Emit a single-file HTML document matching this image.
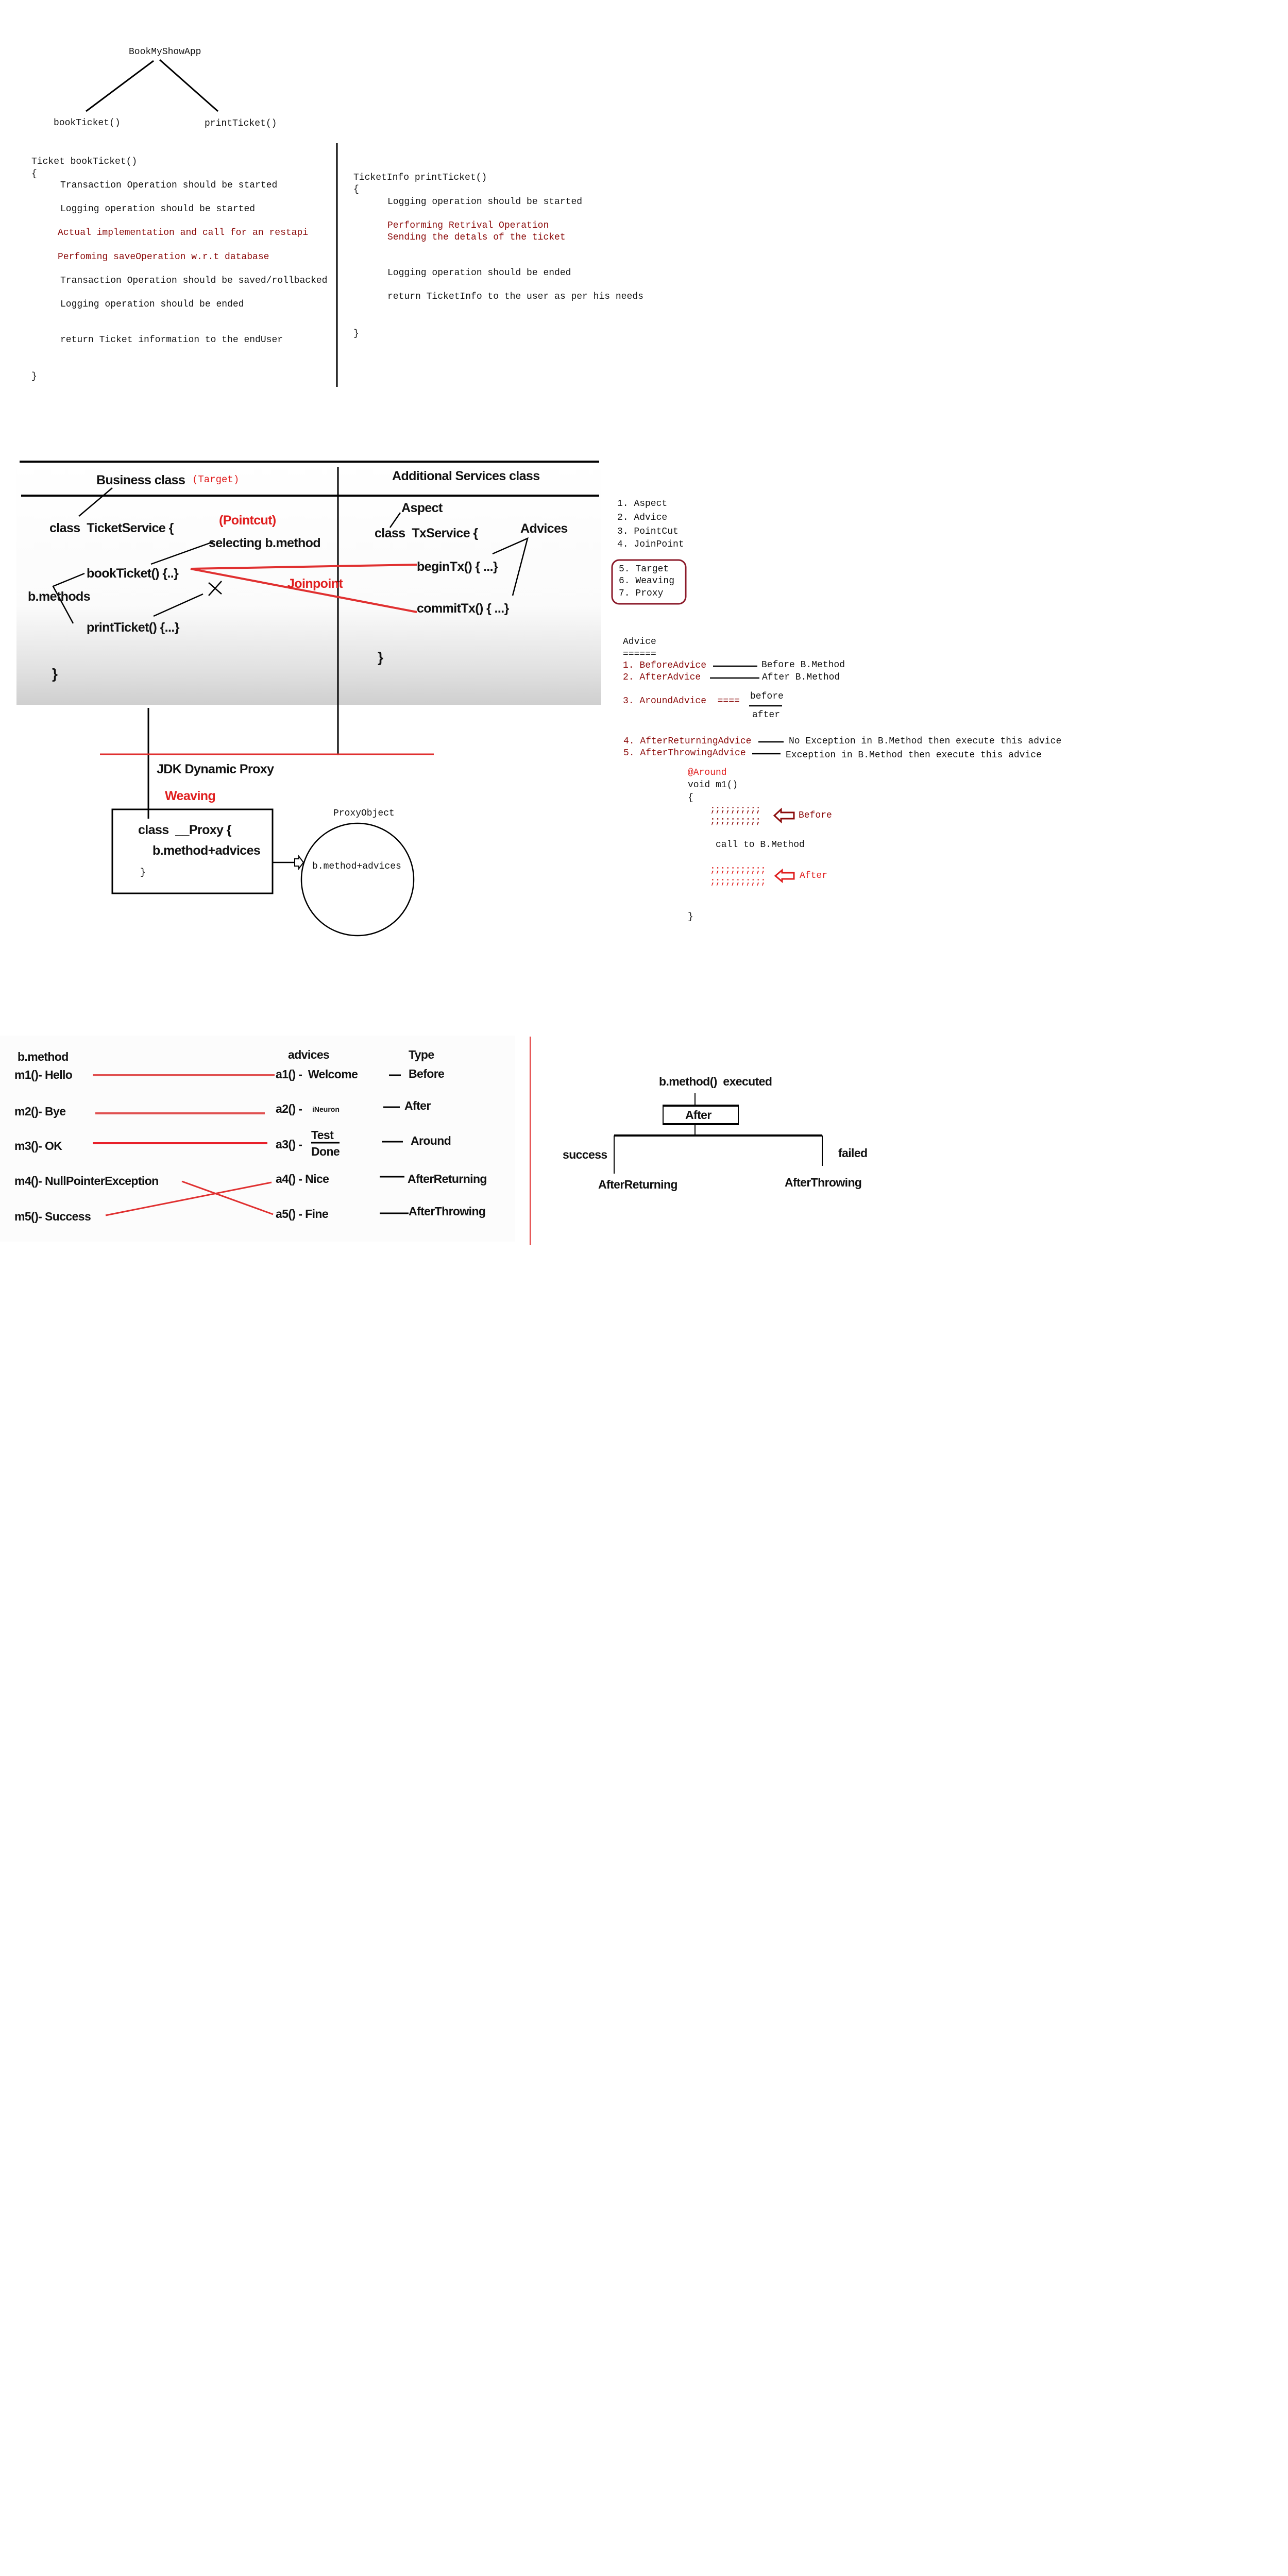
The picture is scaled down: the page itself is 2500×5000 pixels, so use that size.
<!DOCTYPE html>
<html><head><meta charset="utf-8"><style>
html,body{margin:0;padding:0;background:#fff;}
body{width:2500px;height:5000px;position:relative;overflow:hidden;}
.t{position:absolute;white-space:pre;line-height:1;}
.m{font-family:"Liberation Mono",monospace;font-size:18px;color:#111;}
.s{font-family:"Liberation Sans",sans-serif;font-size:23px;font-weight:bold;color:#111;letter-spacing:-0.6px;}
.r{color:#8b0a0a;}
.rr{color:#e01e1e;}
svg{position:absolute;left:0;top:0;}
</style></head><body>

<!-- gray box section 2 -->
<div style="position:absolute;left:32px;top:889px;width:1135px;height:479px;background:linear-gradient(to bottom,#fff 0%,#fbfbfb 60%,#e2e2e2 85%,#cfcfcf 100%);"></div>
<!-- light bg section 3 -->
<div style="position:absolute;left:0;top:2010px;width:1000px;height:400px;background:#fcfcfc;"></div>

<svg width="2500" height="5000">
<g stroke="#000" stroke-width="3" fill="none">
<line x1="298" y1="118" x2="167" y2="216"/>
<line x1="310" y1="116" x2="423" y2="216"/>
<line x1="654" y1="278" x2="654" y2="751"/>
<!-- section2 -->
<line x1="38" y1="896" x2="1163" y2="896" stroke-width="4"/>
<line x1="41" y1="962" x2="1163" y2="962" stroke-width="4"/>
<line x1="656" y1="906" x2="656" y2="1466"/>
<line x1="218" y1="947" x2="153" y2="1002" stroke-width="2.5"/>
<line x1="293" y1="1095" x2="413" y2="1052" stroke-width="2.5"/>
<polyline points="164,1113 103,1138 142,1210" stroke-width="2.5"/>
<line x1="298" y1="1196" x2="394" y2="1153" stroke-width="2.5"/>
<line x1="405" y1="1131" x2="430" y2="1153" stroke-width="2.5"/>
<line x1="430" y1="1128" x2="405" y2="1156" stroke-width="2.5"/>
<line x1="777" y1="995" x2="757" y2="1024" stroke-width="2.5"/>
<polyline points="956,1075 1024,1045 995,1156" stroke-width="2.5"/>
<line x1="288" y1="1374" x2="288" y2="1589"/>
<rect x="218" y="1571" width="311" height="163" stroke-width="3"/>
<line x1="529" y1="1674" x2="572" y2="1674" stroke-width="2.5"/>
<polygon points="572,1667 580,1667 580,1662 589,1674 580,1686 580,1681 572,1681" stroke-width="2"/>
<circle cx="694" cy="1707" r="109" stroke-width="2.5"/>
<!-- advice lines -->
<line x1="1384" y1="1293" x2="1470" y2="1293" stroke-width="2.5"/>
<line x1="1378" y1="1316" x2="1474" y2="1316" stroke-width="2.5"/>
<line x1="1454" y1="1370" x2="1518" y2="1370" stroke-width="2.5"/>
<line x1="1472" y1="1440" x2="1521" y2="1440" stroke-width="2.5"/>
<line x1="1460" y1="1463" x2="1515" y2="1463" stroke-width="2.5"/>
<!-- section3 dashes -->
<line x1="755" y1="2087" x2="778" y2="2087" stroke-width="3"/>
<line x1="744" y1="2149" x2="776" y2="2149" stroke-width="3"/>
<line x1="741" y1="2216" x2="782" y2="2216" stroke-width="3"/>
<line x1="737" y1="2284" x2="785" y2="2284" stroke-width="3"/>
<line x1="737" y1="2355" x2="793" y2="2355" stroke-width="3"/>
<line x1="604" y1="2218" x2="659" y2="2218" stroke-width="3"/>
<!-- tree -->
<line x1="1349" y1="2122" x2="1349" y2="2145" stroke-width="2"/>
<rect x="1287" y="2145" width="146" height="38" stroke-width="2"/>
<line x1="1287" y1="2146" x2="1433" y2="2146" stroke-width="4"/>
<line x1="1287" y1="2182" x2="1433" y2="2182" stroke-width="4"/>
<line x1="1349" y1="2183" x2="1349" y2="2204" stroke-width="2"/>
<line x1="1192" y1="2204" x2="1596" y2="2204" stroke-width="4"/>
<line x1="1192" y1="2204" x2="1192" y2="2278" stroke-width="2"/>
<line x1="1596" y1="2204" x2="1596" y2="2263" stroke-width="2"/>
</g>
<g stroke="#e03030" fill="none">
<line x1="370" y1="1104" x2="809" y2="1096" stroke-width="4"/>
<line x1="370" y1="1104" x2="809" y2="1188" stroke-width="4"/>
<line x1="194" y1="1464" x2="842" y2="1464" stroke-width="3"/>
<line x1="180" y1="2087" x2="533" y2="2087" stroke-width="4" stroke="#e05050"/>
<line x1="185" y1="2161" x2="514" y2="2161" stroke-width="4" stroke="#e05050"/>
<line x1="180" y1="2219" x2="519" y2="2219" stroke-width="4" stroke="#e8202a"/>
<line x1="353" y1="2293" x2="530" y2="2357" stroke-width="3"/>
<line x1="205" y1="2359" x2="527" y2="2295" stroke-width="3"/>
<line x1="1029" y1="2012" x2="1029" y2="2417" stroke-width="2"/>
</g>
<rect x="1188" y="1087" width="143" height="85" rx="14" fill="none" stroke="#8b1a2a" stroke-width="3"/>
<polygon points="1503,1583 1516,1571 1516,1577 1541,1577 1541,1589 1516,1589 1516,1595" fill="none" stroke="#8b0a0a" stroke-width="3"/>
<polygon points="1505,1700 1518,1689 1518,1694 1541,1694 1541,1706 1518,1706 1518,1711" fill="none" stroke="#e01e1e" stroke-width="3"/>
</svg>

<!-- Section 1 -->
<div class="t m" style="left:250px;top:92px">BookMyShowApp</div>
<div class="t m" style="left:104px;top:230px">bookTicket()</div>
<div class="t m" style="left:397px;top:231px">printTicket()</div>
<div class="t m" style="left:61px;top:305px">Ticket bookTicket()</div>
<div class="t m" style="left:61px;top:329px">{</div>
<div class="t m" style="left:117px;top:351px">Transaction Operation should be started</div>
<div class="t m" style="left:117px;top:397px">Logging operation should be started</div>
<div class="t m r" style="left:112px;top:443px">Actual implementation and call for an restapi</div>
<div class="t m r" style="left:112px;top:490px">Perfoming saveOperation w.r.t database</div>
<div class="t m" style="left:117px;top:536px">Transaction Operation should be saved/rollbacked</div>
<div class="t m" style="left:117px;top:582px">Logging operation should be ended</div>
<div class="t m" style="left:117px;top:651px">return Ticket information to the endUser</div>
<div class="t m" style="left:61px;top:722px">}</div>
<div class="t m" style="left:686px;top:336px">TicketInfo printTicket()</div>
<div class="t m" style="left:686px;top:359px">{</div>
<div class="t m" style="left:752px;top:383px">Logging operation should be started</div>
<div class="t m r" style="left:752px;top:429px">Performing Retrival Operation</div>
<div class="t m r" style="left:752px;top:452px">Sending the detals of the ticket</div>
<div class="t m" style="left:752px;top:521px">Logging operation should be ended</div>
<div class="t m" style="left:752px;top:567px">return TicketInfo to the user as per his needs</div>
<div class="t m" style="left:686px;top:639px">}</div>

<!-- Section 2 -->
<div class="t s" style="left:187px;top:920px;font-size:25px">Business class</div>
<div class="t m rr" style="left:373px;top:922px;font-size:19px">(Target)</div>
<div class="t s" style="left:761px;top:912px;font-size:25px">Additional Services class</div>
<div class="t s" style="left:96px;top:1013px;font-size:25px">class  TicketService {</div>
<div class="t s rr" style="left:425px;top:998px;font-size:25px">(Pointcut)</div>
<div class="t s" style="left:405px;top:1042px;font-size:25px">selecting b.method</div>
<div class="t s" style="left:168px;top:1101px;font-size:25px">bookTicket() {..}</div>
<div class="t s" style="left:54px;top:1146px;font-size:25px">b.methods</div>
<div class="t s" style="left:168px;top:1206px;font-size:25px">printTicket() {...}</div>
<div class="t s" style="left:101px;top:1294px;font-size:28px">}</div>
<div class="t s rr" style="left:558px;top:1121px;font-size:25px">Joinpoint</div>
<div class="t s" style="left:779px;top:974px;font-size:25px">Aspect</div>
<div class="t s" style="left:727px;top:1023px;font-size:25px">class  TxService {</div>
<div class="t s" style="left:1010px;top:1014px;font-size:25px">Advices</div>
<div class="t s" style="left:809px;top:1088px;font-size:25px">beginTx() { ...}</div>
<div class="t s" style="left:809px;top:1169px;font-size:25px">commitTx() { ...}</div>
<div class="t s" style="left:733px;top:1262px;font-size:28px">}</div>
<div class="t s" style="left:304px;top:1481px;font-size:25px">JDK Dynamic Proxy</div>
<div class="t s rr" style="left:320px;top:1533px;font-size:25px">Weaving</div>
<div class="t s" style="left:268px;top:1599px;font-size:25px">class  __Proxy {</div>
<div class="t s" style="left:296px;top:1639px;font-size:25px">b.method+advices</div>
<div class="t m" style="left:272px;top:1685px">}</div>
<div class="t m" style="left:647px;top:1570px">ProxyObject</div>
<div class="t m" style="left:606px;top:1673px">b.method+advices</div>

<div class="t m" style="left:1198px;top:969px">1. Aspect</div>
<div class="t m" style="left:1198px;top:996px">2. Advice</div>
<div class="t m" style="left:1198px;top:1023px">3. PointCut</div>
<div class="t m" style="left:1198px;top:1048px">4. JoinPoint</div>
<div class="t m" style="left:1201px;top:1096px">5. Target</div>
<div class="t m" style="left:1201px;top:1119px">6. Weaving</div>
<div class="t m" style="left:1201px;top:1143px">7. Proxy</div>
<div class="t m" style="left:1209px;top:1237px">Advice</div>
<div class="t m" style="left:1209px;top:1261px">======</div>
<div class="t m r" style="left:1209px;top:1283px">1. BeforeAdvice</div>
<div class="t m" style="left:1478px;top:1282px">Before B.Method</div>
<div class="t m r" style="left:1209px;top:1306px">2. AfterAdvice</div>
<div class="t m" style="left:1479px;top:1306px">After B.Method</div>
<div class="t m r" style="left:1209px;top:1352px">3. AroundAdvice  ====</div>
<div class="t m" style="left:1456px;top:1343px">before</div>
<div class="t m" style="left:1460px;top:1379px">after</div>
<div class="t m r" style="left:1210px;top:1430px">4. AfterReturningAdvice</div>
<div class="t m" style="left:1531px;top:1430px">No Exception in B.Method then execute this advice</div>
<div class="t m r" style="left:1210px;top:1453px">5. AfterThrowingAdvice</div>
<div class="t m" style="left:1525px;top:1457px">Exception in B.Method then execute this advice</div>
<div class="t m rr" style="left:1335px;top:1491px">@Around</div>
<div class="t m" style="left:1335px;top:1515px">void m1()</div>
<div class="t m" style="left:1335px;top:1540px">{</div>
<div class="t m r" style="left:1378px;top:1563px;letter-spacing:-1px">;;;;;;;;;;</div>
<div class="t m r" style="left:1378px;top:1585px;letter-spacing:-1px">;;;;;;;;;;</div>
<div class="t m r" style="left:1550px;top:1574px">Before</div>
<div class="t m" style="left:1389px;top:1631px">call to B.Method</div>
<div class="t m rr" style="left:1378px;top:1680px;letter-spacing:-1px">;;;;;;;;;;;</div>
<div class="t m rr" style="left:1378px;top:1703px;letter-spacing:-1px">;;;;;;;;;;;</div>
<div class="t m rr" style="left:1552px;top:1691px">After</div>
<div class="t m" style="left:1335px;top:1771px">}</div>

<!-- Section 3 -->
<div class="t s" style="left:34px;top:2040px">b.method</div>
<div class="t s" style="left:559px;top:2036px">advices</div>
<div class="t s" style="left:793px;top:2036px">Type</div>
<div class="t s" style="left:28px;top:2075px">m1()- Hello</div>
<div class="t s" style="left:535px;top:2074px">a1() -  Welcome</div>
<div class="t s" style="left:793px;top:2073px">Before</div>
<div class="t s" style="left:28px;top:2146px">m2()- Bye</div>
<div class="t s" style="left:535px;top:2141px">a2() -</div>
<div class="t s" style="left:606px;top:2146px;font-size:14px;letter-spacing:0">iNeuron</div>
<div class="t s" style="left:785px;top:2135px">After</div>
<div class="t s" style="left:28px;top:2213px">m3()- OK</div>
<div class="t s" style="left:535px;top:2210px">a3() -</div>
<div class="t s" style="left:604px;top:2192px">Test</div>
<div class="t s" style="left:604px;top:2224px">Done</div>
<div class="t s" style="left:797px;top:2203px">Around</div>
<div class="t s" style="left:28px;top:2281px">m4()- NullPointerException</div>
<div class="t s" style="left:535px;top:2277px">a4() - Nice</div>
<div class="t s" style="left:791px;top:2277px">AfterReturning</div>
<div class="t s" style="left:28px;top:2350px">m5()- Success</div>
<div class="t s" style="left:535px;top:2345px">a5() - Fine</div>
<div class="t s" style="left:793px;top:2340px">AfterThrowing</div>
<div class="t s" style="left:1279px;top:2088px">b.method()  executed</div>
<div class="t s" style="left:1330px;top:2153px">After</div>
<div class="t s" style="left:1092px;top:2230px">success</div>
<div class="t s" style="left:1627px;top:2227px">failed</div>
<div class="t s" style="left:1161px;top:2288px">AfterReturning</div>
<div class="t s" style="left:1523px;top:2284px">AfterThrowing</div>
</body></html>
